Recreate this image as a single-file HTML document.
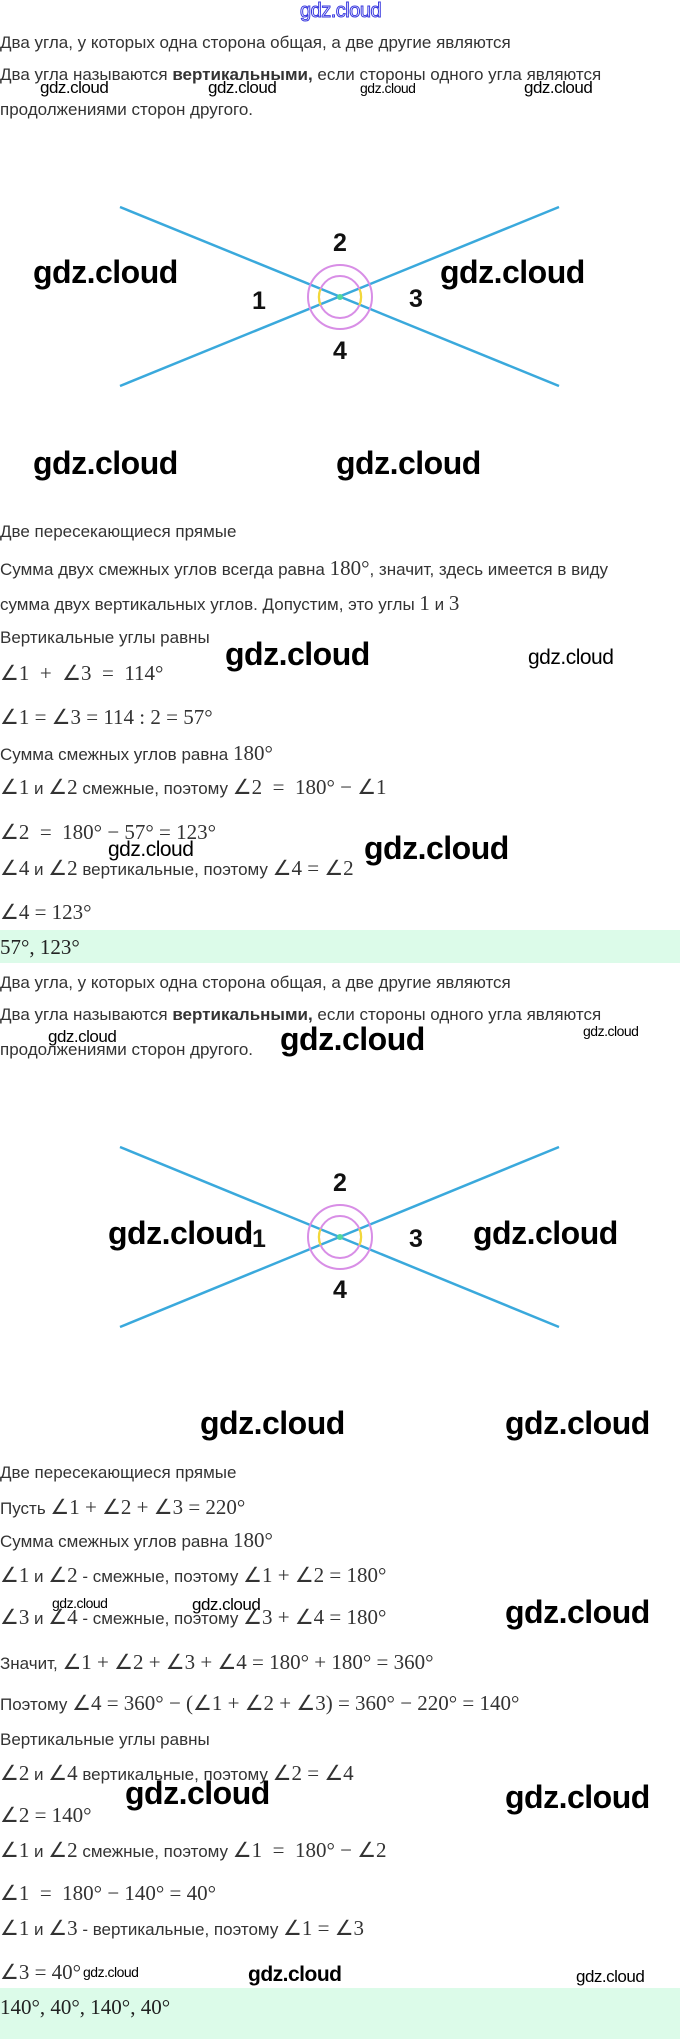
<!DOCTYPE html>
<html><head><meta charset="utf-8"><style>
html,body{margin:0;padding:0;background:#fff;}
body{width:680px;height:2039px;position:relative;overflow:hidden;font-family:"Liberation Sans",sans-serif;}
.t{position:absolute;left:0;font-size:17px;line-height:20px;color:#333;white-space:nowrap;}
.m{font-family:"Liberation Serif",serif;font-size:21px;}
.w{position:absolute;font-family:"Liberation Sans",sans-serif;color:#000;white-space:nowrap;line-height:1;font-weight:bold;letter-spacing:-0.5px;}
.band{position:absolute;left:0;width:680px;background:#dcfbe9;}
svg{position:absolute;left:0;}
.lab{font-family:"Liberation Sans",sans-serif;font-size:25px;font-weight:bold;fill:#111;text-anchor:middle;}
</style></head><body>
<div class="w" style="left:300px;top:1px;font-size:20px;color:#fff;-webkit-text-stroke:1px #3a3adf;font-weight:normal">gdz.cloud</div>

<div class="t" style="top:33px">Два угла, у которых одна сторона общая, а две другие являются</div>
<div class="t" style="top:65px">Два угла называются <b>вертикальными,</b> если стороны одного угла являются</div>
<div class="w" style="left:40px;top:79px;font-size:17px;font-weight:normal">gdz.cloud</div>
<div class="w" style="left:208px;top:79px;font-size:17px;font-weight:normal">gdz.cloud</div>
<div class="w" style="left:360px;top:81px;font-size:14px;font-weight:normal">gdz.cloud</div>
<div class="w" style="left:524px;top:79px;font-size:17px;font-weight:normal">gdz.cloud</div>
<div class="t" style="top:100px">продолжениями сторон другого.</div>

<svg width="680" height="200" style="top:197px" viewBox="0 197 680 200">
<line x1="120" y1="207" x2="559" y2="386" stroke="#3aa9dc" stroke-width="2.5"/>
<line x1="120" y1="386" x2="559" y2="207" stroke="#3aa9dc" stroke-width="2.5"/>
<circle cx="340" cy="297" r="32" fill="none" stroke="#d88ee6" stroke-width="2"/>
<circle cx="340" cy="297" r="21" fill="none" stroke="#d88ee6" stroke-width="2"/>
<path d="M320.5 289 A21 21 0 0 0 320.5 305" fill="none" stroke="#f2d83a" stroke-width="2.2"/>
<path d="M359.5 289 A21 21 0 0 1 359.5 305" fill="none" stroke="#f2d83a" stroke-width="2.2"/>
<circle cx="340" cy="297" r="3" fill="#4fd7a0"/>
<text class="lab" x="340" y="251">2</text>
<text class="lab" x="259" y="309">1</text>
<text class="lab" x="416" y="307">3</text>
<text class="lab" x="340" y="359">4</text>
</svg>
<div class="w" style="left:33px;top:256px;font-size:32px">gdz.cloud</div>
<div class="w" style="left:440px;top:256px;font-size:32px">gdz.cloud</div>
<div class="w" style="left:33px;top:447px;font-size:32px">gdz.cloud</div>
<div class="w" style="left:336px;top:447px;font-size:32px">gdz.cloud</div>

<div class="t" style="top:522px">Две пересекающиеся прямые</div>
<div class="t" style="top:558px">Сумма двух смежных углов всегда равна <span class="m">180°</span>, значит, здесь имеется в виду</div>
<div class="t" style="top:593px">сумма двух вертикальных углов. Допустим, это углы <span class="m">1</span> и <span class="m">3</span></div>
<div class="t" style="top:628px">Вертикальные углы равны</div>
<div class="t m" style="top:663px">∠1 &nbsp;+ &nbsp;∠3 &nbsp;= &nbsp;114°</div>
<div class="t m" style="top:707px">∠1 = ∠3 = 114 : 2 = 57°</div>
<div class="t" style="top:743px">Сумма смежных углов равна <span class="m">180°</span></div>
<div class="t" style="top:777px"><span class="m">∠1</span> и <span class="m">∠2</span> смежные, поэтому <span class="m">∠2 &nbsp;= &nbsp;180° − ∠1</span></div>
<div class="t m" style="top:822px">∠2 &nbsp;= &nbsp;180° − 57° = 123°</div>
<div class="t" style="top:858px"><span class="m">∠4</span> и <span class="m">∠2</span> вертикальные, поэтому <span class="m">∠4 = ∠2</span></div>
<div class="t m" style="top:902px">∠4 = 123°</div>
<div class="band" style="top:930px;height:33px"></div>
<div class="t m" style="top:937px;color:#222">57°, 123°</div>
<div class="w" style="left:225px;top:638px;font-size:32px">gdz.cloud</div>
<div class="w" style="left:528px;top:647px;font-size:21px;font-weight:normal">gdz.cloud</div>
<div class="w" style="left:108px;top:839px;font-size:21px;font-weight:normal">gdz.cloud</div>
<div class="w" style="left:364px;top:832px;font-size:32px">gdz.cloud</div>

<div class="t" style="top:973px">Два угла, у которых одна сторона общая, а две другие являются</div>
<div class="t" style="top:1005px">Два угла называются <b>вертикальными,</b> если стороны одного угла являются</div>
<div class="t" style="top:1040px">продолжениями сторон другого.</div>
<div class="w" style="left:48px;top:1028px;font-size:17px;font-weight:normal">gdz.cloud</div>
<div class="w" style="left:280px;top:1023px;font-size:32px">gdz.cloud</div>
<div class="w" style="left:583px;top:1024px;font-size:14px;font-weight:normal">gdz.cloud</div>

<svg width="680" height="200" style="top:1137px" viewBox="0 1137 680 200">
<line x1="120" y1="1147" x2="559" y2="1327" stroke="#3aa9dc" stroke-width="2.5"/>
<line x1="120" y1="1327" x2="559" y2="1147" stroke="#3aa9dc" stroke-width="2.5"/>
<circle cx="340" cy="1237" r="32" fill="none" stroke="#d88ee6" stroke-width="2"/>
<circle cx="340" cy="1237" r="21" fill="none" stroke="#d88ee6" stroke-width="2"/>
<path d="M320.5 1229 A21 21 0 0 0 320.5 1245" fill="none" stroke="#f2d83a" stroke-width="2.2"/>
<path d="M359.5 1229 A21 21 0 0 1 359.5 1245" fill="none" stroke="#f2d83a" stroke-width="2.2"/>
<circle cx="340" cy="1237" r="3" fill="#4fd7a0"/>
<text class="lab" x="340" y="1191">2</text>
<text class="lab" x="259" y="1247">1</text>
<text class="lab" x="416" y="1247">3</text>
<text class="lab" x="340" y="1298">4</text>
</svg>
<div class="w" style="left:108px;top:1217px;font-size:32px">gdz.cloud</div>
<div class="w" style="left:473px;top:1217px;font-size:32px">gdz.cloud</div>
<div class="w" style="left:200px;top:1407px;font-size:32px">gdz.cloud</div>
<div class="w" style="left:505px;top:1407px;font-size:32px">gdz.cloud</div>

<div class="t" style="top:1463px">Две пересекающиеся прямые</div>
<div class="t" style="top:1497px">Пусть <span class="m">∠1 + ∠2 + ∠3 = 220°</span></div>
<div class="t" style="top:1530px">Сумма смежных углов равна <span class="m">180°</span></div>
<div class="t" style="top:1565px"><span class="m">∠1</span> и <span class="m">∠2</span> - смежные, поэтому <span class="m">∠1 + ∠2 = 180°</span></div>
<div class="t" style="top:1607px"><span class="m">∠3</span> и <span class="m">∠4</span> - смежные, поэтому <span class="m">∠3 + ∠4 = 180°</span></div>
<div class="t" style="top:1652px">Значит, <span class="m">∠1 + ∠2 + ∠3 + ∠4 = 180° + 180° = 360°</span></div>
<div class="t" style="top:1693px">Поэтому <span class="m">∠4 = 360° − (∠1 + ∠2 + ∠3) = 360° − 220° = 140°</span></div>
<div class="t" style="top:1730px">Вертикальные углы равны</div>
<div class="t" style="top:1763px"><span class="m">∠2</span> и <span class="m">∠4</span> вертикальные, поэтому <span class="m">∠2 = ∠4</span></div>
<div class="t m" style="top:1805px">∠2 = 140°</div>
<div class="t" style="top:1840px"><span class="m">∠1</span> и <span class="m">∠2</span> смежные, поэтому <span class="m">∠1 &nbsp;= &nbsp;180° − ∠2</span></div>
<div class="t m" style="top:1883px">∠1 &nbsp;= &nbsp;180° − 140° = 40°</div>
<div class="t" style="top:1918px"><span class="m">∠1</span> и <span class="m">∠3</span> - вертикальные, поэтому <span class="m">∠1 = ∠3</span></div>
<div class="t m" style="top:1962px">∠3 = 40°</div>
<div class="band" style="top:1988px;height:51px"></div>
<div class="t m" style="top:1997px;color:#222">140°, 40°, 140°, 40°</div>
<div class="w" style="left:52px;top:1596px;font-size:14px;font-weight:normal">gdz.cloud</div>
<div class="w" style="left:192px;top:1596px;font-size:17px;font-weight:normal">gdz.cloud</div>
<div class="w" style="left:505px;top:1596px;font-size:32px">gdz.cloud</div>
<div class="w" style="left:125px;top:1777px;font-size:32px">gdz.cloud</div>
<div class="w" style="left:505px;top:1781px;font-size:32px">gdz.cloud</div>
<div class="w" style="left:83px;top:1965px;font-size:14px;font-weight:normal">gdz.cloud</div>
<div class="w" style="left:248px;top:1964px;font-size:21px">gdz.cloud</div>
<div class="w" style="left:576px;top:1968px;font-size:17px;font-weight:normal">gdz.cloud</div>
</body></html>
